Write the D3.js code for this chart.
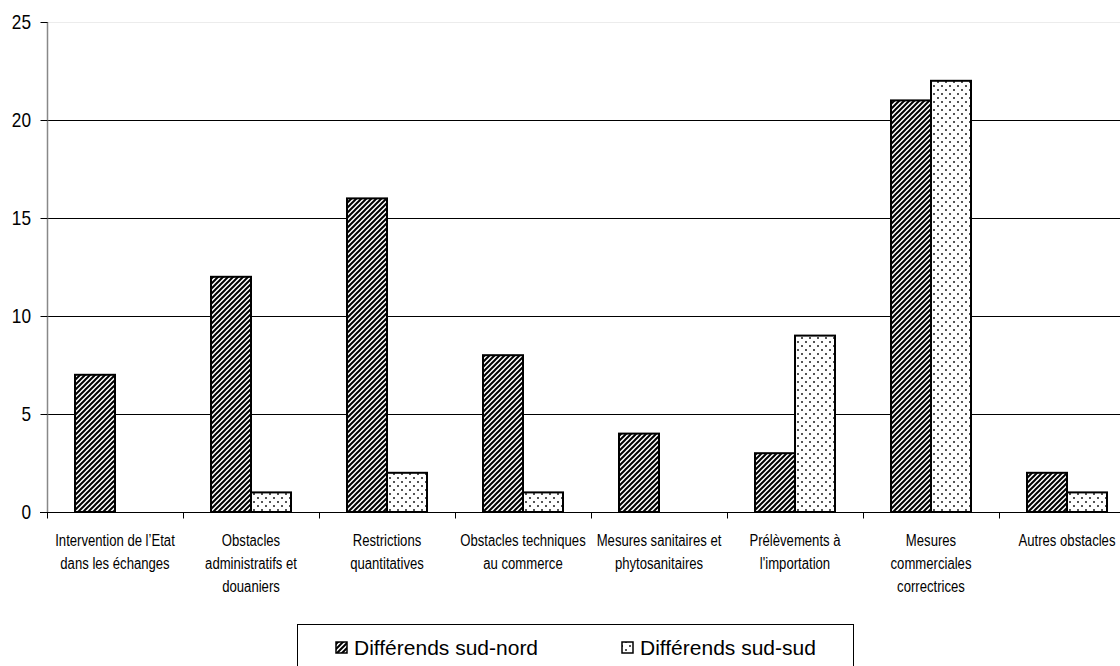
<!DOCTYPE html>
<html><head><meta charset="utf-8">
<script src="https://cdn.jsdelivr.net/npm/d3@7"></script>
<style>
html,body{margin:0;padding:0;background:#fff;}
svg{display:block;}
</style></head>
<body>
<svg id="chart" width="1120" height="666"></svg>
<script>
const categories = [
  "Intervention de l’Etat dans les échanges",
  "Obstacles administratifs et douaniers",
  "Restrictions quantitatives",
  "Obstacles techniques au commerce",
  "Mesures sanitaires et phytosanitaires",
  "Prélèvements à l'importation",
  "Mesures commerciales correctrices",
  "Autres obstacles"
];
const categoryLines = [
  ["Intervention de l’Etat", "dans les échanges"],
  ["Obstacles", "administratifs et", "douaniers"],
  ["Restrictions", "quantitatives"],
  ["Obstacles techniques", "au commerce"],
  ["Mesures sanitaires et", "phytosanitaires"],
  ["Prélèvements à", "l'importation"],
  ["Mesures", "commerciales", "correctrices"],
  ["Autres obstacles"]
];
const seriesNames = ["Différends sud-nord", "Différends sud-sud"];
const sudNord = [7, 12, 16, 8, 4, 3, 21, 2];
const sudSud  = [0, 1, 2, 1, 0, 9, 22, 1];
const yTicks = [0, 5, 10, 15, 20, 25];

const svg = d3.select("#chart");
const regular = "'Liberation Sans',Arial,sans-serif";
const NARROW = 0.82;

// patterns
const defs = svg.append("defs");
const hatch = defs.append("pattern").attr("id","hatch").attr("patternUnits","userSpaceOnUse")
  .attr("width",5).attr("height",5);
hatch.append("rect").attr("width",5).attr("height",5).attr("fill","#fff");
hatch.append("path").attr("d","M-1,1 L1,-1 M0,5 L5,0 M4,6 L6,4")
  .attr("stroke","#000").attr("stroke-width",2);
const dots = defs.append("pattern").attr("id","dots").attr("patternUnits","userSpaceOnUse")
  .attr("width",8).attr("height",8);
dots.append("rect").attr("width",8).attr("height",8).attr("fill","#fff");
dots.append("rect").attr("x",1).attr("y",1).attr("width",2).attr("height",2).attr("fill","#555");
dots.append("rect").attr("x",5).attr("y",5).attr("width",2).attr("height",2).attr("fill","#555");
const fills = ["url(#hatch)","url(#dots)"];

const plotLeft = 47, plotTop = 22, plotBottom = 512, step = 136;
const x = d3.scaleBand().domain(categories).range([plotLeft, plotLeft + step*categories.length]).paddingInner(0).paddingOuter(0);
const xs = d3.scaleBand().domain(seriesNames).range([28, 108]);
const y = d3.scaleLinear().domain([0,25]).range([plotBottom, plotTop]);

// gridlines
svg.append("g").selectAll("line").data(yTicks.filter(t=>t>0)).join("line")
  .attr("x1", plotLeft).attr("x2", 1120)
  .attr("y1", d=>y(d)+0.5).attr("y2", d=>y(d)+0.5)
  .attr("stroke", d=> d===25 ? "#ececec" : "#000").attr("stroke-width",1);

// bars
const rows = categories.map((c,i)=>({cat:c, vals:[sudNord[i], sudSud[i]]}));
const g = svg.append("g");
rows.forEach(r=>{
  r.vals.forEach((v,si)=>{
    if (v<=0) return;
    g.append("rect")
      .attr("x", x(r.cat)+xs(seriesNames[si]))
      .attr("y", y(v))
      .attr("width", xs.bandwidth())
      .attr("height", y(0)-y(v))
      .attr("fill", fills[si])
      .attr("stroke","#000").attr("stroke-width",2);
  });
});

// y axis
const yAxis = d3.axisLeft(y).tickValues(yTicks).tickSize(7).tickFormat("");
const ya = svg.append("g").attr("transform",`translate(${plotLeft+0.5},0)`).call(yAxis);
ya.select(".domain").attr("stroke","#888").attr("stroke-width",1.5).attr("d",`M0,${plotTop}V${plotBottom}`);
ya.selectAll(".tick line").attr("stroke","#000");
svg.append("g").selectAll("text").data(yTicks).join("text")
  .attr("transform", d=>`translate(31,${y(d)+7}) scale(${NARROW},1)`)
  .attr("text-anchor","end").attr("font-family",regular).attr("font-size",21).attr("fill","#000")
  .text(d=>d);

// x axis
const xAxis = d3.axisBottom(x).tickValues([]).tickSizeOuter(0);
const xa = svg.append("g").attr("transform",`translate(0,${plotBottom+0.5})`).call(xAxis);
xa.select(".domain").attr("stroke","#000").attr("stroke-width",1.2).attr("d",`M${plotLeft-7},0H1120`);
xa.selectAll(".bt").data(d3.range(categories.length+1)).join("line")
  .attr("x1",i=>plotLeft+i*step+0.5).attr("x2",i=>plotLeft+i*step+0.5)
  .attr("y1",0).attr("y2",6).attr("stroke","#000");

// category labels
const lab = svg.append("g").attr("font-family",regular).attr("font-size",16).attr("fill","#000").attr("text-anchor","middle");
categories.forEach((c,i)=>{
  const cx = x(c)+x.bandwidth()/2;
  const t = lab.append("text").attr("transform",`translate(${cx},546) scale(${NARROW},1)`);
  categoryLines[i].forEach((ln,j)=>{
    t.append("tspan").attr("x", 0).attr("y", j*23).text(ln);
  });
});

// legend
const lg = svg.append("g");
lg.append("rect").attr("x",297.5).attr("y",624.5).attr("width",556).attr("height",60)
  .attr("fill","#fff").attr("stroke","#000").attr("stroke-width",1);
const legX = [336, 622];
seriesNames.forEach((s,i)=>{
  lg.append("rect").attr("x",legX[i]).attr("y",642).attr("width",11).attr("height",11)
    .attr("fill",fills[i]).attr("stroke","#000").attr("stroke-width",1.5);
  lg.append("text").attr("x",legX[i]+18).attr("y",655).attr("font-family",regular)
    .attr("font-size",21).attr("fill","#000").text(s);
});
</script>
</body></html>
